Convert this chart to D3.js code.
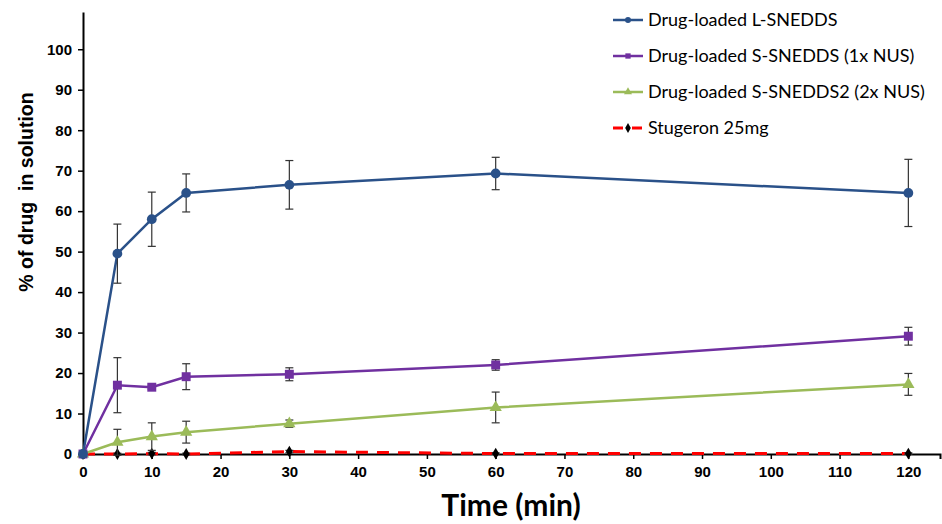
<!DOCTYPE html>
<html>
<head>
<meta charset="utf-8">
<script src="https://cdn.jsdelivr.net/npm/d3@7"></script>
<style>
  body { margin: 0; background: #fff; }
  svg { display: block; }
</style>
</head>
<body>
<div id="chart"></div>
<script>
// time points (min)
var times = [0, 5, 10, 15, 30, 60, 120];

var seriesNames = [
  'Drug-loaded L-SNEDDS',
  'Drug-loaded S-SNEDDS (1x NUS)',
  'Drug-loaded S-SNEDDS2 (2x NUS)',
  'Stugeron 25mg'
];

var lsneddsMean = [0, 49.5, 58, 64.5, 66.5, 69.3, 64.5];
var lsneddsErr  = [0, 7.3, 6.7, 4.7, 6, 4, 8.3];

var ssneddsMean = [0, 17, 16.5, 19.1, 19.7, 22, 29.1];
var ssneddsErr  = [0, 6.8, 0.5, 3.2, 1.6, 1.3, 2.2];

var ssnedds2Mean = [0, 2.9, 4.3, 5.4, 7.5, 11.5, 17.2];
var ssnedds2Err  = [0, 3.2, 3.4, 2.7, 0.9, 3.8, 2.7];

var stugeronMean = [0, 0, 0.1, 0, 0.6, 0.1, 0.1];
var stugeronErr  = [0, 0.2, 0.3, 0.2, 0.3, 0.2, 0.2];

var xTicks = d3.range(0, 121, 10);
var yTicks = d3.range(0, 101, 10);

var width = 942, height = 524;
var margin = {top: 12, right: 2, bottom: 70, left: 83};

var svg = d3.select('#chart').append('svg')
    .attr('width', width)
    .attr('height', height);

var x = d3.scaleLinear().domain([0, 124.6]).range([margin.left, width - margin.right]);
var y = d3.scaleLinear().domain([0, 109.2]).range([454, margin.top]);

var symbolTypes = {
  circle: d3.symbolCircle,
  square: d3.symbolSquare,
  triangle: d3.symbolTriangle,
  diamond: d3.symbolDiamond
};

var series = [
  {name: seriesNames[0], mean: lsneddsMean, err: lsneddsErr, color: '#2a5189', marker: 'circle', size: 75},
  {name: seriesNames[1], mean: ssneddsMean, err: ssneddsErr, color: '#7030a0', marker: 'square', size: 80},
  {name: seriesNames[2], mean: ssnedds2Mean, err: ssnedds2Err, color: '#9bbb59', marker: 'triangle', size: 65},
  {name: seriesNames[3], mean: stugeronMean, err: stugeronErr, color: '#ff0000', marker: 'diamond', size: 40, dashed: true}
];

var line = d3.line()
    .x(function(d) { return x(d.t); })
    .y(function(d) { return y(d.v); });

function styleAxis(g) {
  g.attr('font-family', '"Liberation Sans", Arial, sans-serif')
    .attr('font-size', 15)
    .attr('font-weight', 'bold');
  g.select('.domain').attr('stroke', '#000').attr('stroke-width', 2);
  g.selectAll('.tick line').attr('stroke', '#000').attr('stroke-width', 1.5);
  g.selectAll('.tick text').attr('fill', '#000');
}

// X axis
svg.append('g')
  .attr('transform', 'translate(0,' + y(0) + ')')
  .call(d3.axisBottom(x).tickValues(xTicks).tickSize(5).tickPadding(7))
  .call(styleAxis);

// Y axis
svg.append('g')
  .attr('transform', 'translate(' + x(0) + ',0)')
  .call(d3.axisLeft(y).tickValues(yTicks).tickSize(5).tickPadding(6).tickSizeOuter(0))
  .call(styleAxis);

// series, drawn back to front
series.slice().reverse().forEach(function(s) {
  var pts = times.map(function(t, i) { return {t: t, v: s.mean[i], e: s.err[i]}; });
  var g = svg.append('g');

  g.append('path')
    .datum(pts)
    .attr('d', line)
    .attr('fill', 'none')
    .attr('stroke', s.color)
    .attr('stroke-width', s.dashed ? 3 : 2.5)
    .attr('stroke-dasharray', s.dashed ? '12,9' : null);

  // error bars
  var eb = g.selectAll('.err').data(pts.filter(function(d) { return d.e > 0; }))
    .enter().append('g').attr('class', 'err');
  eb.append('line')
    .attr('x1', function(d) { return x(d.t); })
    .attr('x2', function(d) { return x(d.t); })
    .attr('y1', function(d) { return y(d.v + d.e); })
    .attr('y2', function(d) { return y(d.v - d.e); });
  eb.append('line')
    .attr('x1', function(d) { return x(d.t) - 4; })
    .attr('x2', function(d) { return x(d.t) + 4; })
    .attr('y1', function(d) { return y(d.v + d.e); })
    .attr('y2', function(d) { return y(d.v + d.e); });
  eb.append('line')
    .attr('x1', function(d) { return x(d.t) - 4; })
    .attr('x2', function(d) { return x(d.t) + 4; })
    .attr('y1', function(d) { return y(d.v - d.e); })
    .attr('y2', function(d) { return y(d.v - d.e); });
  eb.selectAll('line').attr('stroke', '#333').attr('stroke-width', 1.2);

  g.selectAll('.mk').data(pts)
    .enter().append('path')
    .attr('class', 'mk')
    .attr('transform', function(d) { return 'translate(' + x(d.t) + ',' + y(d.v) + ')'; })
    .attr('d', d3.symbol().type(symbolTypes[s.marker]).size(s.size))
    .attr('fill', s.dashed ? '#000' : s.color);
});

// legend
var legend = svg.append('g').attr('transform', 'translate(613,20)');
series.forEach(function(s, i) {
  var row = legend.append('g').attr('transform', 'translate(0,' + (i * 36) + ')');
  row.append('line')
    .attr('x1', 0).attr('x2', 30)
    .attr('stroke', s.color)
    .attr('stroke-width', s.dashed ? 3 : 2.5)
    .attr('stroke-dasharray', s.dashed ? '10,9' : null);
  row.append('path')
    .attr('transform', 'translate(15,0)')
    .attr('d', d3.symbol().type(symbolTypes[s.marker]).size(28))
    .attr('fill', s.dashed ? '#000' : s.color);
  row.append('text')
    .attr('x', 35)
    .attr('dy', '0.35em')
    .style('font-family', 'Lato, "Open Sans", sans-serif')
    .style('font-size', '18px')
    .style('fill', '#000')
    .text(s.name);
});

// axis titles
svg.append('text')
  .attr('x', 511)
  .attr('y', 516)
  .attr('text-anchor', 'middle')
  .style('font-family', 'Lato, "Open Sans", sans-serif')
  .style('font-weight', 'bold')
  .style('font-size', '30px')
  .text('Time (min)');

svg.append('text')
  .attr('transform', 'translate(33,192) rotate(-90)')
  .attr('text-anchor', 'middle')
  .style('font-family', '"Liberation Sans", Arial, sans-serif')
  .style('font-weight', 'bold')
  .style('font-size', '19.5px')
  .style('white-space', 'pre')
  .text('% of drug  in solution');
</script>
</body>
</html>
